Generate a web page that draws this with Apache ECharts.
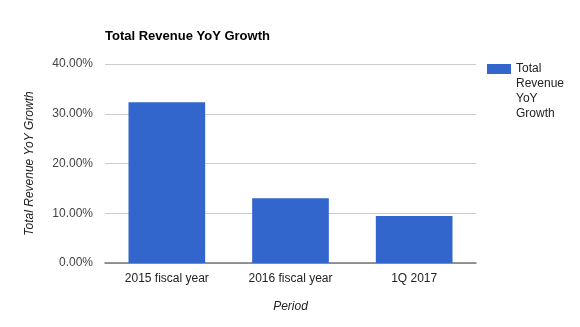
<!DOCTYPE html>
<html>
<head>
<meta charset="utf-8">
<script src="https://cdn.jsdelivr.net/npm/echarts@6/dist/echarts.min.js"></script>
<style>html,body{margin:0;padding:0;background:#fff}#c{width:580px;height:327px}</style>
</head>
<body>
<div id="c"></div>
<script>
const categories = ['2015 fiscal year', '2016 fiscal year', '1Q 2017'];
const growthValues = [32.3, 13.0, 9.45];
const yTicks = [0, 10, 20, 30, 40];
const seriesName = 'Total Revenue YoY Growth';
const legendLines = ['Total', 'Revenue', 'YoY', 'Growth'];

const chart = echarts.init(document.getElementById('c'), null, {renderer: 'canvas'});
chart.setOption({
  animation: false,
  title: {
    text: 'Total Revenue YoY Growth',
    left: 105, top: 30, padding: 0,
    textStyle: {fontFamily: 'Liberation Sans, Arial', fontSize: 13, fontWeight: 'bold', color: '#000'}
  },
  legend: {
    left: 487, top: 63, padding: 0,
    itemWidth: 24, itemHeight: 10,
    icon: 'rect',
    data: [seriesName],
    formatter: () => legendLines[0],
    textStyle: {fontFamily: 'Liberation Sans, Arial', fontSize: 12, color: '#222'}
  },
  graphic: [{
    type: 'text',
    left: 516, top: 76,
    silent: true,
    style: {
      text: legendLines.slice(1).join('\n'),
      font: '12px "Liberation Sans", Arial',
      fill: '#222',
      lineHeight: 15
    }
  }],
  grid: {left: 105, right: 104, top: 64, bottom: 64},
  xAxis: {
    type: 'category',
    data: categories,
    name: 'Period',
    nameLocation: 'middle',
    nameGap: 38,
    nameTextStyle: {fontFamily: 'Liberation Sans, Arial', fontSize: 12, fontStyle: 'italic', color: '#222'},
    axisLine: {lineStyle: {color: '#777', width: 1.5}},
    axisTick: {show: false},
    axisLabel: {fontFamily: 'Liberation Sans, Arial', fontSize: 12, color: '#222', margin: 10}
  },
  yAxis: {
    type: 'value',
    min: yTicks[0], max: yTicks[yTicks.length - 1], interval: 10,
    name: 'Total Revenue YoY Growth',
    nameLocation: 'middle',
    nameGap: 69,
    nameTextStyle: {fontFamily: 'Liberation Sans, Arial', fontSize: 12, fontStyle: 'italic', color: '#222'},
    axisLine: {show: false},
    axisTick: {show: false},
    splitLine: {lineStyle: {color: '#ccc', width: 1}},
    axisLabel: {fontFamily: 'Liberation Sans, Arial', fontSize: 12, color: '#444', margin: 12,
      formatter: v => v.toFixed(2) + '%'}
  },
  series: [{
    name: seriesName,
    type: 'bar',
    data: growthValues,
    barCategoryGap: '38%',
    itemStyle: {color: '#3366cc'}
  }]
});
</script>
</body>
</html>
